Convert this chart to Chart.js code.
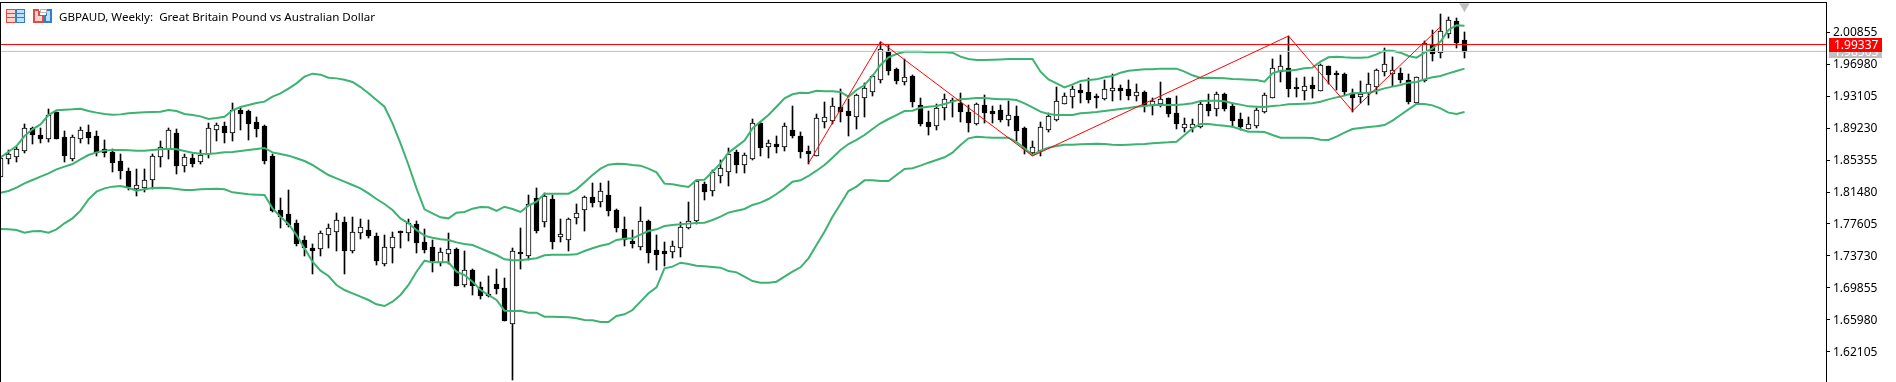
<!DOCTYPE html>
<html>
<head>
<meta charset="utf-8">
<style>html,body{margin:0;padding:0;background:#fff}canvas{display:block}</style>
<script src="https://cdn.jsdelivr.net/npm/chart.js@4"></script>
</head>
<body>
<canvas id="c" width="1896" height="382"></canvas>
<script>
const titleText = "GBPAUD, Weekly:  Great Britain Pound vs Australian Dollar";
const tickValues = [2.00855,1.96980,1.93105,1.89230,1.85355,1.81480,1.77605,1.73730,1.69855,1.65980,1.62105];
const askPrice = 1.99337;
const bidPrice = 1.98503;

const opens = [
1.8346,1.8556,1.8588,1.8661,1.8919,1.8838,1.8806,1.9117,1.8814,1.8564,
1.8798,1.8870,1.8826,1.8665,1.8628,1.8519,1.8402,1.8200,1.8213,1.8301,
1.8580,1.8673,1.8858,1.8479,1.8556,1.8527,1.8616,1.8907,1.8943,1.8870,
1.9141,1.9125,1.8992,1.8943,1.8580,1.7926,1.7877,1.7769,1.7563,1.7466,
1.7466,1.7635,1.7672,1.7781,1.7450,1.7660,1.7684,1.7611,1.7288,1.7478,
1.7672,1.7660,1.7756,1.7538,1.7478,1.7304,1.7413,1.7454,1.7038,1.7199,
1.6994,1.6917,1.7030,1.6982,1.6558,1.7417,1.7389,1.8071,1.7801,1.8059,
1.7611,1.7583,1.7841,1.7938,1.8088,1.8035,1.8108,1.7930,1.7696,1.7555,
1.7498,1.7793,1.7442,1.7430,1.7430,1.7486,1.7728,1.7813,1.8241,1.8176,
1.8358,1.8406,1.8628,1.8491,1.8556,1.8980,1.8709,1.8725,1.8701,1.8895,
1.8826,1.8640,1.8600,1.9012,1.9024,1.9173,1.9125,1.9072,1.9294,1.9375,
1.9520,1.9851,1.9637,1.9496,1.9553,1.9197,1.8992,1.8955,1.9181,1.9250,
1.9222,1.9117,1.8988,1.9197,1.9125,1.9141,1.9028,1.9064,1.8923,1.8632,
1.8661,1.8915,1.9028,1.9222,1.9306,1.9379,1.9355,1.9310,1.9290,1.9379,
1.9403,1.9391,1.9319,1.9355,1.9197,1.9230,1.9282,1.9101,1.8939,1.8939,
1.8947,1.9210,1.9161,1.9331,1.9189,1.9028,1.8919,1.8963,1.9125,1.9294,
1.9617,1.9646,1.9415,1.9387,1.9440,1.9387,1.9674,1.9593,1.9573,1.9343,
1.9306,1.9359,1.9436,1.9609,1.9593,1.9585,1.9500,1.9242,1.9504,1.9928,
1.9847,2.0069,2.0215,1.9985];
const closes = [
1.8556,1.8604,1.8665,1.8919,1.8854,1.8806,1.9080,1.8806,1.8596,1.8814,
1.8895,1.8818,1.8636,1.8636,1.8515,1.8418,1.8221,1.8229,1.8289,1.8580,
1.8697,1.8895,1.8479,1.8568,1.8503,1.8592,1.8919,1.8955,1.8879,1.9137,
1.9109,1.8988,1.8927,1.8540,1.7934,1.7861,1.7760,1.7534,1.7486,1.7450,
1.7647,1.7716,1.7805,1.7442,1.7660,1.7720,1.7631,1.7321,1.7478,1.7607,
1.7660,1.7769,1.7546,1.7462,1.7329,1.7417,1.7462,1.7026,1.7199,1.7022,
1.6905,1.6905,1.6990,1.6602,1.7430,1.7413,1.8007,1.7688,1.8104,1.7559,
1.7635,1.7817,1.7890,1.8084,1.8031,1.8164,1.7934,1.7728,1.7583,1.7534,
1.7793,1.7425,1.7401,1.7413,1.7498,1.7728,1.7793,1.8281,1.8164,1.8390,
1.8435,1.8608,1.8491,1.8592,1.8988,1.8697,1.8737,1.8709,1.8943,1.8838,
1.8649,1.8624,1.9040,1.9052,1.9185,1.9133,1.9084,1.9319,1.9403,1.9553,
1.9876,1.9629,1.9508,1.9537,1.9254,1.8984,1.8951,1.9161,1.9270,1.9258,
1.9133,1.8996,1.9210,1.9121,1.9109,1.9032,1.9076,1.8903,1.8677,1.8689,
1.8931,1.9064,1.9246,1.9306,1.9391,1.9355,1.9278,1.9302,1.9391,1.9403,
1.9387,1.9327,1.9355,1.9206,1.9250,1.9270,1.9109,1.8980,1.8967,1.8967,
1.9214,1.9145,1.9331,1.9169,1.9024,1.8951,1.8976,1.9137,1.9319,1.9646,
1.9670,1.9403,1.9403,1.9436,1.9403,1.9682,1.9573,1.9573,1.9371,1.9302,
1.9339,1.9452,1.9621,1.9694,1.9621,1.9516,1.9254,1.9537,1.9956,1.9835,
2.0094,2.0227,1.9969,1.9851];
const highs = [
1.8576,1.8657,1.8697,1.8971,1.8939,1.8919,1.9153,1.9117,1.8887,1.8838,
1.8935,1.8959,1.8887,1.8778,1.8665,1.8608,1.8435,1.8427,1.8427,1.8604,
1.8766,1.8923,1.8907,1.8608,1.8608,1.8657,1.8980,1.8988,1.8992,1.9222,
1.9181,1.9141,1.9052,1.8955,1.8608,1.8071,1.8172,1.7809,1.7615,1.7518,
1.7676,1.7761,1.7890,1.7849,1.7841,1.7817,1.7809,1.7647,1.7627,1.7660,
1.7676,1.7817,1.7797,1.7696,1.7567,1.7466,1.7647,1.7466,1.7438,1.7211,
1.7054,1.7131,1.7215,1.7103,1.7466,1.7708,1.8108,1.8192,1.8132,1.8112,
1.7821,1.7829,1.8003,1.8100,1.8253,1.8257,1.8277,1.7938,1.7841,1.7688,
1.7966,1.7809,1.7627,1.7538,1.7555,1.7785,1.8031,1.8293,1.8273,1.8414,
1.8536,1.8677,1.8657,1.8624,1.9028,1.9000,1.8774,1.8826,1.8980,1.9189,
1.8870,1.8705,1.9093,1.9238,1.9286,1.9395,1.9274,1.9331,1.9464,1.9565,
1.9969,1.9928,1.9646,1.9754,1.9561,1.9282,1.9129,1.9214,1.9331,1.9282,
1.9343,1.9201,1.9230,1.9319,1.9193,1.9197,1.9254,1.9189,1.8931,1.8766,
1.8996,1.9101,1.9415,1.9351,1.9432,1.9456,1.9524,1.9331,1.9504,1.9577,
1.9444,1.9504,1.9456,1.9375,1.9282,1.9480,1.9286,1.9310,1.9040,1.9028,
1.9242,1.9331,1.9363,1.9343,1.9222,1.9101,1.9052,1.9161,1.9351,1.9754,
1.9803,2.0037,1.9524,1.9537,1.9537,1.9698,1.9678,1.9613,1.9585,1.9391,
1.9492,1.9585,1.9637,1.9892,1.9779,1.9646,1.9577,1.9545,1.9981,2.0110,
2.0303,2.0263,2.0251,2.0081];
const lows = [
1.8346,1.8495,1.8523,1.8632,1.8745,1.8757,1.8770,1.8806,1.8527,1.8536,
1.8753,1.8745,1.8596,1.8584,1.8402,1.8322,1.8180,1.8112,1.8164,1.8192,
1.8463,1.8564,1.8378,1.8402,1.8467,1.8499,1.8576,1.8778,1.8757,1.8778,
1.8911,1.8794,1.8826,1.8503,1.7922,1.7728,1.7736,1.7510,1.7385,1.7171,
1.7385,1.7486,1.7446,1.7171,1.7417,1.7595,1.7599,1.7280,1.7264,1.7304,
1.7486,1.7567,1.7425,1.7425,1.7195,1.7264,1.7292,1.7026,1.7010,1.6913,
1.6868,1.6889,1.6929,1.6602,1.5883,1.7232,1.7333,1.7664,1.7736,1.7466,
1.7555,1.7446,1.7769,1.7688,1.7983,1.7978,1.7869,1.7676,1.7502,1.7478,
1.7458,1.7304,1.7220,1.7260,1.7361,1.7373,1.7716,1.7777,1.8063,1.8112,
1.8273,1.8233,1.8394,1.8394,1.8544,1.8596,1.8572,1.8636,1.8657,1.8818,
1.8568,1.8495,1.8596,1.8939,1.8980,1.9012,1.8838,1.8923,1.9068,1.9323,
1.9484,1.9577,1.9472,1.9456,1.9189,1.8963,1.8850,1.8911,1.9032,1.9068,
1.9008,1.8887,1.8971,1.9000,1.9000,1.9008,1.8955,1.8778,1.8624,1.8604,
1.8600,1.8891,1.9020,1.9222,1.9181,1.9242,1.9242,1.9181,1.9274,1.9262,
1.9278,1.9270,1.9262,1.9133,1.9093,1.9189,1.9072,1.8927,1.8891,1.8891,
1.8939,1.9080,1.9080,1.9141,1.8947,1.8907,1.8919,1.8939,1.9121,1.9294,
1.9496,1.9315,1.9310,1.9270,1.9302,1.9383,1.9472,1.9391,1.9331,1.9129,
1.9242,1.9214,1.9351,1.9565,1.9444,1.9484,1.9230,1.9230,1.9492,1.9746,
1.9787,2.0029,1.9908,1.9787];

const bbUpper = [
1.8568,1.8636,1.8705,1.8826,1.8907,1.8967,1.9080,1.9137,1.9145,1.9149,
1.9157,1.9129,1.9109,1.9093,1.9084,1.9088,1.9101,1.9109,1.9113,1.9117,
1.9121,1.9141,1.9129,1.9093,1.9080,1.9064,1.9032,1.9044,1.9060,1.9137,
1.9177,1.9201,1.9226,1.9242,1.9302,1.9343,1.9399,1.9464,1.9545,1.9581,
1.9569,1.9532,1.9524,1.9508,1.9480,1.9419,1.9343,1.9262,1.9181,1.8980,
1.8737,1.8475,1.8192,1.7938,1.7890,1.7841,1.7829,1.7898,1.7906,1.7946,
1.7966,1.7962,1.7918,1.7970,1.7942,1.7906,1.7983,1.8031,1.8128,1.8128,
1.8128,1.8128,1.8180,1.8265,1.8354,1.8431,1.8479,1.8491,1.8487,1.8475,
1.8467,1.8431,1.8386,1.8249,1.8241,1.8225,1.8209,1.8293,1.8297,1.8394,
1.8495,1.8624,1.8697,1.8770,1.8919,1.9000,1.9080,1.9181,1.9282,1.9331,
1.9351,1.9347,1.9375,1.9367,1.9367,1.9359,1.9302,1.9383,1.9444,1.9553,
1.9686,1.9779,1.9819,1.9847,1.9847,1.9847,1.9839,1.9839,1.9839,1.9835,
1.9787,1.9759,1.9746,1.9746,1.9750,1.9754,1.9759,1.9759,1.9759,1.9759,
1.9605,1.9512,1.9464,1.9415,1.9452,1.9492,1.9504,1.9512,1.9537,1.9553,
1.9593,1.9617,1.9625,1.9633,1.9633,1.9642,1.9642,1.9642,1.9605,1.9561,
1.9528,1.9532,1.9528,1.9524,1.9516,1.9512,1.9508,1.9504,1.9484,1.9585,
1.9617,1.9617,1.9629,1.9646,1.9654,1.9726,1.9779,1.9787,1.9779,1.9775,
1.9775,1.9779,1.9815,1.9859,1.9859,1.9835,1.9795,1.9775,1.9835,1.9888,
1.9969,2.0110,2.0166,2.0162];
const bbMiddle = [
1.8140,1.8160,1.8200,1.8253,1.8293,1.8334,1.8374,1.8422,1.8455,1.8487,
1.8544,1.8596,1.8628,1.8649,1.8657,1.8657,1.8653,1.8649,1.8649,1.8657,
1.8665,1.8673,1.8665,1.8645,1.8624,1.8612,1.8608,1.8616,1.8628,1.8632,
1.8645,1.8657,1.8669,1.8681,1.8628,1.8608,1.8588,1.8556,1.8523,1.8475,
1.8414,1.8354,1.8313,1.8273,1.8233,1.8192,1.8132,1.8063,1.8003,1.7930,
1.7829,1.7769,1.7688,1.7619,1.7595,1.7575,1.7567,1.7538,1.7518,1.7506,
1.7466,1.7425,1.7385,1.7333,1.7321,1.7321,1.7333,1.7345,1.7381,1.7389,
1.7389,1.7389,1.7393,1.7433,1.7466,1.7498,1.7518,1.7567,1.7583,1.7587,
1.7631,1.7676,1.7696,1.7736,1.7748,1.7756,1.7765,1.7773,1.7777,1.7809,
1.7849,1.7898,1.7922,1.7942,1.7991,1.8019,1.8063,1.8124,1.8192,1.8273,
1.8289,1.8342,1.8406,1.8475,1.8564,1.8657,1.8729,1.8778,1.8838,1.8911,
1.8980,1.9032,1.9080,1.9129,1.9133,1.9169,1.9181,1.9189,1.9214,1.9242,
1.9270,1.9278,1.9286,1.9286,1.9278,1.9270,1.9270,1.9262,1.9222,1.9173,
1.9121,1.9093,1.9080,1.9080,1.9080,1.9101,1.9109,1.9117,1.9129,1.9141,
1.9153,1.9165,1.9181,1.9189,1.9201,1.9206,1.9201,1.9201,1.9210,1.9222,
1.9250,1.9254,1.9254,1.9246,1.9222,1.9206,1.9185,1.9181,1.9177,1.9189,
1.9197,1.9210,1.9214,1.9218,1.9222,1.9242,1.9270,1.9294,1.9315,1.9343,
1.9347,1.9351,1.9375,1.9403,1.9424,1.9444,1.9472,1.9480,1.9512,1.9537,
1.9553,1.9585,1.9613,1.9642];
const bbLower = [
1.7700,1.7696,1.7688,1.7656,1.7672,1.7676,1.7656,1.7696,1.7769,1.7829,
1.7922,1.8059,1.8152,1.8192,1.8213,1.8221,1.8200,1.8164,1.8180,1.8196,
1.8200,1.8196,1.8184,1.8172,1.8172,1.8180,1.8184,1.8188,1.8180,1.8144,
1.8132,1.8120,1.8116,1.8112,1.7950,1.7849,1.7761,1.7627,1.7466,1.7304,
1.7195,1.7131,1.7022,1.6961,1.6921,1.6881,1.6840,1.6788,1.6767,1.6820,
1.6901,1.7022,1.7183,1.7316,1.7296,1.7296,1.7296,1.7183,1.7143,1.7062,
1.6961,1.6901,1.6840,1.6711,1.6707,1.6711,1.6687,1.6687,1.6638,1.6638,
1.6634,1.6630,1.6618,1.6598,1.6594,1.6574,1.6574,1.6646,1.6667,1.6719,
1.6820,1.6921,1.6994,1.7224,1.7244,1.7292,1.7276,1.7256,1.7248,1.7240,
1.7232,1.7191,1.7175,1.7123,1.7070,1.7050,1.7050,1.7062,1.7123,1.7183,
1.7236,1.7345,1.7506,1.7668,1.7849,1.8003,1.8160,1.8213,1.8289,1.8289,
1.8281,1.8281,1.8354,1.8427,1.8435,1.8467,1.8503,1.8536,1.8568,1.8624,
1.8717,1.8798,1.8818,1.8810,1.8806,1.8806,1.8806,1.8753,1.8677,1.8596,
1.8649,1.8685,1.8705,1.8721,1.8721,1.8725,1.8729,1.8733,1.8729,1.8721,
1.8717,1.8721,1.8725,1.8729,1.8737,1.8745,1.8749,1.8757,1.8838,1.8919,
1.8971,1.8971,1.8959,1.8951,1.8939,1.8907,1.8879,1.8879,1.8875,1.8838,
1.8806,1.8806,1.8806,1.8806,1.8802,1.8782,1.8778,1.8818,1.8866,1.8911,
1.8923,1.8935,1.8943,1.8959,1.9012,1.9080,1.9149,1.9214,1.9214,1.9197,
1.9161,1.9109,1.9093,1.9117];

const zigzagBars = [101,110,129,161,169,180];
const zigzagPrices = [1.8495,1.9969,1.8584,2.0037,1.9129,2.0150];

for (const [n,a] of Object.entries({opens,closes,highs,lows,bbUpper,bbMiddle,bbLower})) {
  if (a.length !== 184) throw new Error(n + " has length " + a.length);
}

const UP = "#ffffff", DOWN = "#000000", BAND = "#3CB371", ZIG = "#ff0000", BID = "#c0c0c0";
const lastBar = opens.length - 1;
const series = a => a.map((v,i)=>({x:i,y:v}));
const font = "'Noto Sans'";

// Snap the candle rectangles the scales have placed onto whole pixels, as the platform draws them.
const snapCandles = {
  id:"snapCandles",
  afterDatasetsUpdate(ch){
    ch.data.datasets.forEach((ds,di)=>{
      if (ds.type !== "bar") return;
      ch.getDatasetMeta(di).data.forEach(el=>{
        const top = Math.round(Math.min(el.y,el.base));
        const bot = Math.round(Math.max(el.y,el.base));
        el.y = top; el.base = bot + 1;
      });
    });
  }
};

const decor = {
  id:"decor",
  afterDraw(ch){
    const c = ch.ctx, a = ch.chartArea, ys = ch.scales.y;
    c.save();
    c.fillStyle = "#000";
    c.fillRect(0,a.top,a.right,1);
    c.fillRect(0,a.top,1,a.bottom-a.top);
    c.textBaseline="alphabetic"; c.textAlign="left";
    c.font = "12px "+font;
    const fit = 12*316/c.measureText(titleText).width;
    c.font = fit.toFixed(2)+"px "+font;
    c.fillStyle="#000"; c.fillText(titleText,59,21);
    // icons
    const R="#e8483f",B="#2f80c8",r="#fbd5cf",b="#bfe0f6",g="#b8b8b8";
    c.fillStyle=R; c.fillRect(6,9,10,14); c.fillStyle=B; c.fillRect(16,9,9,14);
    c.fillStyle=r; c.fillRect(7,10,8,3); c.fillRect(7,14,8,3); c.fillRect(7,18,8,4);
    c.fillStyle=b; c.fillRect(17,10,7,3); c.fillRect(17,14,7,3); c.fillRect(17,18,7,4);
    c.fillStyle=R; c.fillRect(33,9,3,14); c.fillRect(36,21,8,2); c.fillRect(42,15,2,7);c.fillRect(36,9,3,2);c.fillRect(38,11,2,4);c.fillRect(38,15,6,1);
    c.fillStyle=r; c.fillRect(35,11,3,10); c.fillRect(37,16,5,5);
    c.fillStyle=B; c.fillRect(44,15,2,8); c.fillRect(46,21,6,2); c.fillRect(50,9,2,14); c.fillRect(46,9,4,2); c.fillRect(46,11,1,5);
    c.fillStyle=b; c.fillRect(47,11,3,10); c.fillRect(46,16,1,5);
    c.strokeStyle=g; c.lineWidth=1; c.strokeRect(40.5,9.5,6,3);
    // price tags
    const tag=(p,col)=>{
      const y=ys.getPixelForValue(p);
      c.fillStyle=col; c.fillRect(1829,Math.round(y)-7,53,14);
      c.fillStyle="#fff"; c.textBaseline="middle"; c.font="12px "+font;
      c.fillText(p.toFixed(5),1834,y+1);
    };
    tag(bidPrice,BID);
    tag(askPrice,"#ff0000");
    c.restore();
  }
};

const wickDs = {type:"bar",label:"wick",order:6,barThickness:1,grouped:false,
  data:highs.map((h,i)=>({x:i,y:[lows[i],h]})),backgroundColor:DOWN,borderWidth:0};
const bodyDs = {type:"bar",label:"body",order:5,barThickness:5,grouped:false,
  data:opens.map((o,i)=>({x:i,y:[o,closes[i]]})),
  backgroundColor:opens.map((o,i)=>closes[i]>o?UP:DOWN),
  borderColor:DOWN,borderWidth:1,borderSkipped:false};
const lineDs = (label,data,color,width,order)=>({type:"line",label,data,borderColor:color,borderWidth:width,
  pointRadius:0,tension:0,fill:false,order});

new Chart(document.getElementById("c"),{
  data:{datasets:[
    wickDs,bodyDs,
    lineDs("upper",series(bbUpper),BAND,2,4),
    lineDs("middle",series(bbMiddle),BAND,2,4),
    lineDs("lower",series(bbLower),BAND,2,4),
    lineDs("zigzag",zigzagBars.map((b,i)=>({x:b,y:zigzagPrices[i]})),ZIG,1,3),
    lineDs("bid",[{x:-1,y:bidPrice},{x:230,y:bidPrice}],BID,1,3),
    lineDs("ask",[{x:-1,y:askPrice},{x:230,y:askPrice}],"#ff0000",1,2),
    {type:"line",label:"last",data:[{x:lastBar,y:2.0396}],showLine:false,pointStyle:"triangle",
     rotation:180,pointRadius:6,pointBackgroundColor:BID,pointBorderWidth:0,order:1}
  ]},
  options:{
    responsive:false,animation:false,devicePixelRatio:1,
    layout:{autoPadding:false,padding:{top:2,left:0,right:0,bottom:0}},
    plugins:{legend:{display:false},tooltip:{enabled:false},title:{display:false}},
    scales:{
      x:{type:"linear",display:false,offset:false,min:-0.0625,max:228.1875},
      y:{type:"linear",position:"right",min:1.58472,max:2.04488,
        afterFit(s){s.width=70;s.paddingTop=0;s.paddingBottom=0;},
        afterBuildTicks(s){s.ticks=tickValues.map(v=>({value:v}));},
        border:{display:true,color:"#000",width:1},
        grid:{drawOnChartArea:false,drawTicks:true,tickLength:4,color:"#000",tickColor:"#000"},
        ticks:{autoSkip:false,color:"#000",padding:3,labelOffset:1,font:{family:font,size:12},
          callback:v=>Number(v).toFixed(5)}
      }
    }
  },
  plugins:[snapCandles,decor]
});
</script>
</body>
</html>
